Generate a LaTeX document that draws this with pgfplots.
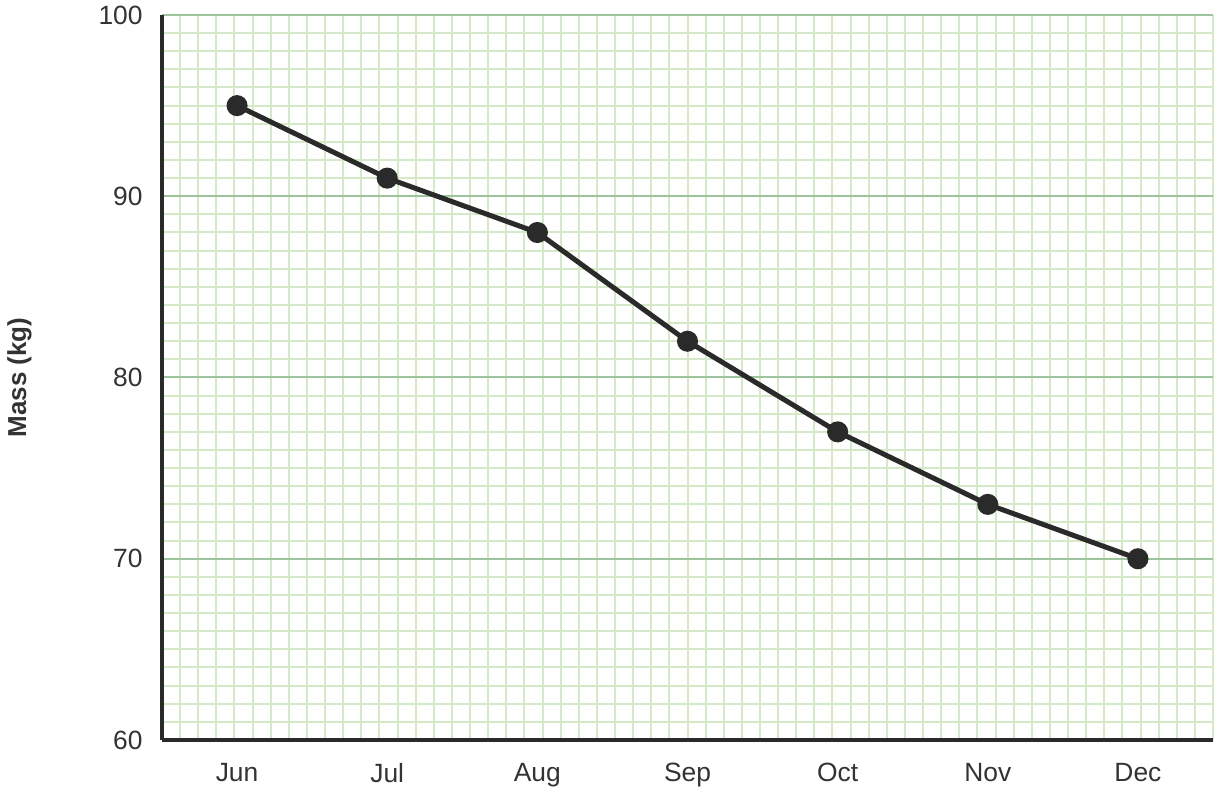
\documentclass[border=0pt]{standalone}
\usepackage{fontspec}
\setmainfont{Liberation Sans}
\usepackage{pgfplots}
\pgfplotsset{compat=1.18}
\definecolor{axiscol}{HTML}{2A2A2A}
\definecolor{majgrid}{HTML}{9CC59C}
\definecolor{mingrid}{HTML}{D5E9C9}
\definecolor{txtcol}{HTML}{333333}
\begin{document}
\begin{tikzpicture}
\begin{axis}[
  name=ax,
  scale only axis,
  width=525.5bp, height=362.5bp,
  xmin=-0.5, xmax=6.5,
  ymin=60, ymax=100,
  xtick={0,1,2,3,4,5,6},
  xticklabels={Jun,Jul,Aug,Sep,Oct,Nov,Dec},
  ytick={60,70,80,90,100},
  minor ytick={60,61,...,100},
  minor xtick={-0.5,-0.3793103,...,6.55},
  xmajorgrids=false, xminorgrids=true,
  ymajorgrids=true, yminorgrids=true,
  major grid style={draw=majgrid, line width=1bp},
  minor grid style={draw=mingrid, line width=1bp},
  axis x line=bottom, axis y line=left,
  axis line style={-, draw=axiscol, line width=2bp},
  major tick length=0pt, minor tick length=0pt,
  tick style={draw=none},
  /pgf/number format/assume math mode=true,
  ticklabel style={font=\fontsize{13.2bp}{15.8bp}\selectfont, text=txtcol},
  xticklabel style={yshift=-8bp},
  yticklabel style={xshift=-6.2bp},
  ylabel={Mass (kg)},
  every axis y label/.style={at={(rel axis cs:0,0.5)}, xshift=-71.25bp, rotate=90, anchor=center,
    font=\fontsize{13bp}{15.6bp}\selectfont\bfseries, text=txtcol},
  clip=false,
]
\addplot[color=axiscol, line width=2.5bp, mark=*, mark size=4bp, mark options={fill=axiscol, draw=axiscol}]
  coordinates {(0,95) (1,91) (2,88) (3,82) (4,77) (5,73) (6,70)};
\coordinate (sw) at (rel axis cs:0,0);
\coordinate (ne) at (rel axis cs:1,1);
\end{axis}
\pgfresetboundingbox
\path ([xshift=-81bp,yshift=-25.5bp]sw) rectangle ([xshift=3.5bp,yshift=7.5bp]ne);
\end{tikzpicture}
\end{document}
